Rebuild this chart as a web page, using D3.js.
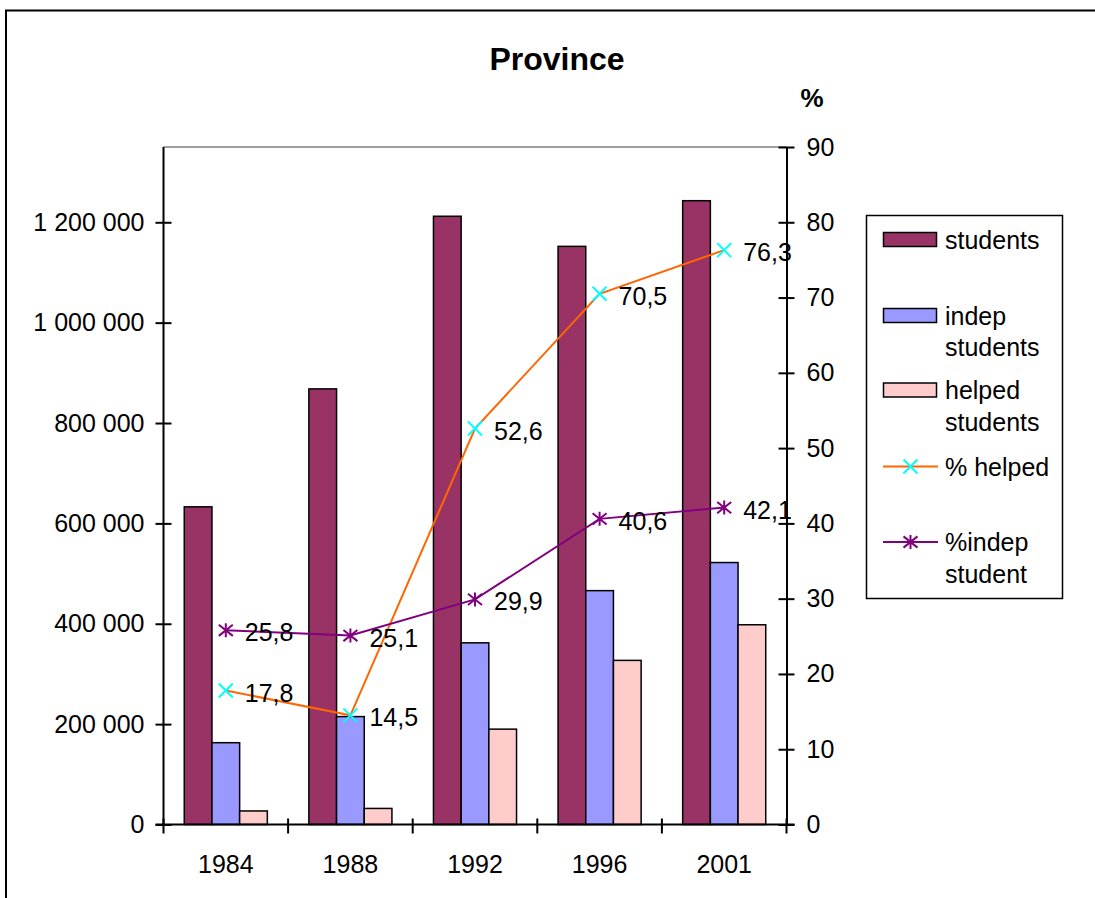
<!DOCTYPE html>
<html>
<head>
<meta charset="utf-8">
<script src="https://cdn.jsdelivr.net/npm/d3@7"></script>
<style>
  html, body { margin: 0; padding: 0; background: #fff; }
  svg { display: block; }
  text { font-family: Arial, "Liberation Sans", sans-serif; fill: #000; }
</style>
</head>
<body>
<svg id="chart" width="1095" height="898"></svg>
<script>
const years = ["1984", "1988", "1992", "1996", "2001"];
const students = [633000, 868000, 1212000, 1152000, 1243000];
const indepStudents = [163000, 215000, 362000, 466000, 522000];
const helpedStudents = [27000, 32000, 190000, 327000, 398000];
const pctHelped = [17.8, 14.5, 52.6, 70.5, 76.3];
const pctIndep = [25.8, 25.1, 29.9, 40.6, 42.1];
const leftTicks = [0, 200000, 400000, 600000, 800000, 1000000, 1200000];
const rightTicks = [0, 10, 20, 30, 40, 50, 60, 70, 80, 90];

const barSeries = [
  { name: ["students"], values: students, color: "#993366" },
  { name: ["indep", "students"], values: indepStudents, color: "#9999FF" },
  { name: ["helped", "students"], values: helpedStudents, color: "#FFCCCC" }
];
const lineSeries = [
  { name: ["% helped"], values: pctHelped, color: "#FF6600", marker: "x", mcolor: "#00FFFF" },
  { name: ["%indep", "student"], values: pctIndep, color: "#800080", marker: "star", mcolor: "#800080" }
];

const svg = d3.select("#chart");
const L = 163.5, R = 786.5, T = 147, B = 824.5;

// outer chart border
svg.append("rect").attr("x", 6).attr("y", 10.5).attr("width", 1200).attr("height", 1000)
  .attr("fill", "none").attr("stroke", "#000").attr("stroke-width", 2);

const x0 = d3.scaleBand().domain(years).range([L, R]).paddingInner(0).paddingOuter(0);
const groupPad = x0.bandwidth() / 4.5 * 0.75;
const x1 = d3.scaleBand().domain([0, 1, 2]).range([groupPad, x0.bandwidth() - groupPad]).padding(0);
const yL = d3.scaleLinear().domain([0, 1350000]).range([B, T]);
const yR = d3.scaleLinear().domain([0, 90]).range([B, T]);

// plot area top border (grey)
svg.append("line").attr("x1", L).attr("x2", R).attr("y1", T).attr("y2", T)
  .attr("stroke", "#808080").attr("stroke-width", 1.5);

// bars
barSeries.forEach((s, si) => {
  svg.append("g").selectAll("rect").data(s.values).join("rect")
    .attr("x", (d, i) => x0(years[i]) + x1(si))
    .attr("y", d => yL(d))
    .attr("width", x1.bandwidth())
    .attr("height", d => B - yL(d))
    .attr("fill", s.color)
    .attr("stroke", "#000").attr("stroke-width", 1.5);
});

const fmt = d => d3.format(",")(d).replace(/,/g, " ");

// left axis
const gL = svg.append("g").attr("transform", `translate(${L},0)`)
  .call(d3.axisLeft(yL).tickValues(leftTicks).tickFormat(fmt).tickSizeInner(8).tickSizeOuter(0).tickPadding(11));
gL.selectAll(".tick line").attr("x2", 8).attr("x1", -8);
gL.select(".domain").attr("d", `M0,${T}V${B}`);

// right axis
const gR = svg.append("g").attr("transform", `translate(${R},0)`)
  .call(d3.axisRight(yR).tickValues(rightTicks).tickSizeInner(8).tickSizeOuter(0).tickPadding(12));
gR.selectAll(".tick line").attr("x1", -8).attr("x2", 8);

// bottom axis
const gB = svg.append("g").attr("transform", `translate(0,${B})`)
  .call(d3.axisBottom(x0).tickSize(0).tickPadding(31));
gB.selectAll(".tick line").remove();
gB.select(".domain").attr("d", `M${L - 8},0H${R + 8}`);
const bounds = years.map(y => x0(y)).concat([R]);
gB.append("g").selectAll("line").data(bounds).join("line")
  .attr("x1", d => d).attr("x2", d => d).attr("y1", -6).attr("y2", 9)
  .attr("stroke", "#000").attr("stroke-width", 2);

[gL, gR, gB].forEach(g => {
  g.selectAll(".domain").attr("stroke", "#000").attr("stroke-width", 2);
  g.selectAll(".tick line").attr("stroke", "#000").attr("stroke-width", 2);
  g.selectAll("text").attr("font-size", 25).attr("font-family", "Arial, 'Liberation Sans', sans-serif").attr("fill", "#000");
});

// markers
function drawMarker(g, type, cx, cy, color) {
  const r = 7;
  if (type === "x") {
    g.append("path").attr("d", `M${cx - r},${cy - r}L${cx + r},${cy + r}M${cx - r},${cy + r}L${cx + r},${cy - r}`)
      .attr("stroke", color).attr("stroke-width", 2).attr("fill", "none");
  } else {
    g.append("path").attr("d", `M${cx - r},${cy - r * 0.8}L${cx + r},${cy + r * 0.8}M${cx - r},${cy + r * 0.8}L${cx + r},${cy - r * 0.8}M${cx},${cy - r}V${cy + r}`)
      .attr("stroke", color).attr("stroke-width", 2).attr("fill", "none");
  }
}

const cx = i => x0(years[i]) + x0.bandwidth() / 2;
lineSeries.forEach(s => {
  const line = d3.line().x((d, i) => cx(i)).y(d => yR(d));
  svg.append("path").datum(s.values).attr("d", line)
    .attr("fill", "none").attr("stroke", s.color).attr("stroke-width", 2);
  const g = svg.append("g");
  s.values.forEach((v, i) => drawMarker(g, s.marker, cx(i), yR(v), s.mcolor));
  svg.append("g").selectAll("text").data(s.values).join("text")
    .attr("x", (d, i) => cx(i) + 19)
    .attr("y", d => yR(d) + 2)
    .attr("dominant-baseline", "central")
    .attr("font-size", 25)
    .text(d => d.toFixed(1).replace(".", ","));
});

// title
svg.append("text").attr("x", 557).attr("y", 70).attr("text-anchor", "middle")
  .attr("font-size", 32).attr("font-weight", "bold").text("Province");
svg.append("text").attr("x", 812).attr("y", 107).attr("text-anchor", "middle")
  .attr("font-size", 26).attr("font-weight", "bold").text("%");

// legend
const lg = svg.append("g");
lg.append("rect").attr("x", 866.5).attr("y", 215.5).attr("width", 196).attr("height", 383)
  .attr("fill", "#fff").attr("stroke", "#000").attr("stroke-width", 1.5);
const legendRows = [239.5, 315.5, 390, 466.5, 542];
const lineH = 31.5;
barSeries.forEach((s, i) => {
  const y = legendRows[i];
  lg.append("rect").attr("x", 883.5).attr("y", y - 7).attr("width", 53).attr("height", 14)
    .attr("fill", s.color).attr("stroke", "#000").attr("stroke-width", 1.5);
  s.name.forEach((t, j) => lg.append("text").attr("x", 945).attr("y", y + j * lineH)
    .attr("dominant-baseline", "central").attr("font-size", 25).text(t));
});
lineSeries.forEach((s, k) => {
  const y = legendRows[3 + k];
  lg.append("line").attr("x1", 883).attr("x2", 938).attr("y1", y).attr("y2", y)
    .attr("stroke", s.color).attr("stroke-width", 2);
  drawMarker(lg, s.marker, 910.5, y, s.mcolor);
  s.name.forEach((t, j) => lg.append("text").attr("x", 945).attr("y", y + j * lineH)
    .attr("dominant-baseline", "central").attr("font-size", 25).text(t));
});
</script>
</body>
</html>
